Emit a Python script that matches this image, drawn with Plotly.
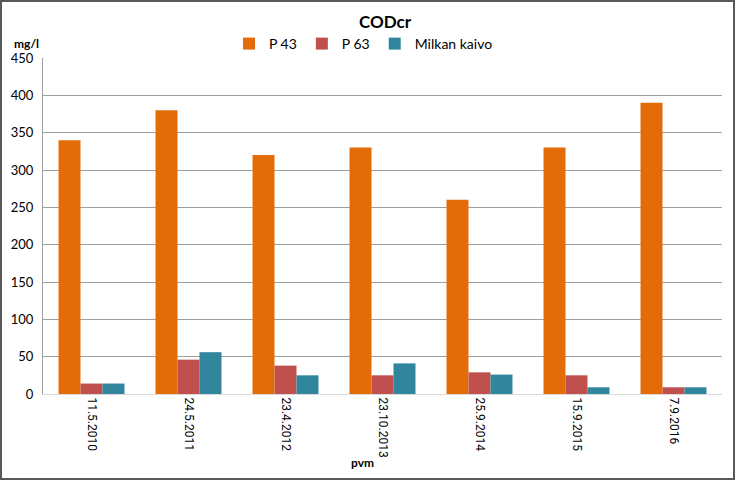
import plotly.graph_objects as go

categories = ["11.5.2010", "24.5.2011", "23.4.2012", "23.10.2013", "25.9.2014", "15.9.2015", "7.9.2016"]
p43 = [340, 380, 320, 330, 260, 330, 390]
p63 = [14, 46, 38, 25, 29, 25, 9]
milkan = [14, 56, 25, 41, 26, 9, 9]
series_names = ["P 43", "P 63", "Milkan kaivo"]
colors = ["#E36C09", "#C0504D", "#31859C"]

W, H = 735, 480
ml, mr, mt, mb = 43, 13, 58, 86
pw, ph = W - ml - mr, H - mt - mb

fig = go.Figure()
for name, vals, c in zip(series_names, [p43, p63, milkan], colors):
    fig.add_trace(go.Bar(x=categories, y=vals, name=name, marker=dict(color=c, line=dict(width=0))))

fig.update_layout(
    width=W, height=H,
    margin=dict(l=ml, r=mr, t=mt, b=mb, autoexpand=False),
    paper_bgcolor="white", plot_bgcolor="white",
    font=dict(family="Lato, Open Sans, sans-serif", size=13, color="black"),
    barmode="group", bargap=0.32, bargroupgap=0,
    title=dict(text="<b>CODcr</b>", x=(385 - ml) / pw, xanchor="center", xref="paper",
               y=1 - 22 / H, yanchor="middle", font=dict(size=17, color="black")),
    legend=dict(orientation="h", x=(229 - ml) / pw, xanchor="left", y=1 + 14 / ph, yanchor="middle",
                font=dict(size=14), itemwidth=30, traceorder="normal", bgcolor="rgba(0,0,0,0)"),
    showlegend=True,
)
fig.update_yaxes(range=[0, 450], dtick=50, showgrid=True, gridcolor="#A0A0A0", gridwidth=1,
                 showline=True, linecolor="#A0A0A0", linewidth=1, ticks="", zeroline=False,
                 tickfont=dict(size=13), ticklabelstandoff=6)
fig.update_xaxes(tickangle=90, showline=True, linecolor="#D9D9D9", linewidth=1, ticks="",
                 tickfont=dict(size=12, family="Roboto, sans-serif"), showgrid=False)

fig.add_annotation(text="<b>mg/l</b>", xref="paper", yref="paper", x=-31 / pw, y=1 + 14 / ph,
                   xanchor="left", yanchor="middle", showarrow=False, font=dict(size=12))
fig.add_annotation(text="<b>pvm</b>", xref="paper", yref="paper", x=(362 - ml) / pw, y=-68 / ph,
                   xanchor="center", yanchor="middle", showarrow=False, font=dict(size=12))
fig.add_shape(type="rect", xref="paper", yref="paper",
              x0=-(ml - 1) / pw, x1=1 + (mr - 1) / pw, y0=-(mb - 1) / ph, y1=1 + (mt - 1) / ph,
              line=dict(color="#595959", width=2), fillcolor="rgba(0,0,0,0)", layer="above")

fig.write_html("out.html", config={"displayModeBar": False},
               post_script="document.body.style.margin='0';document.body.style.padding='0';")
